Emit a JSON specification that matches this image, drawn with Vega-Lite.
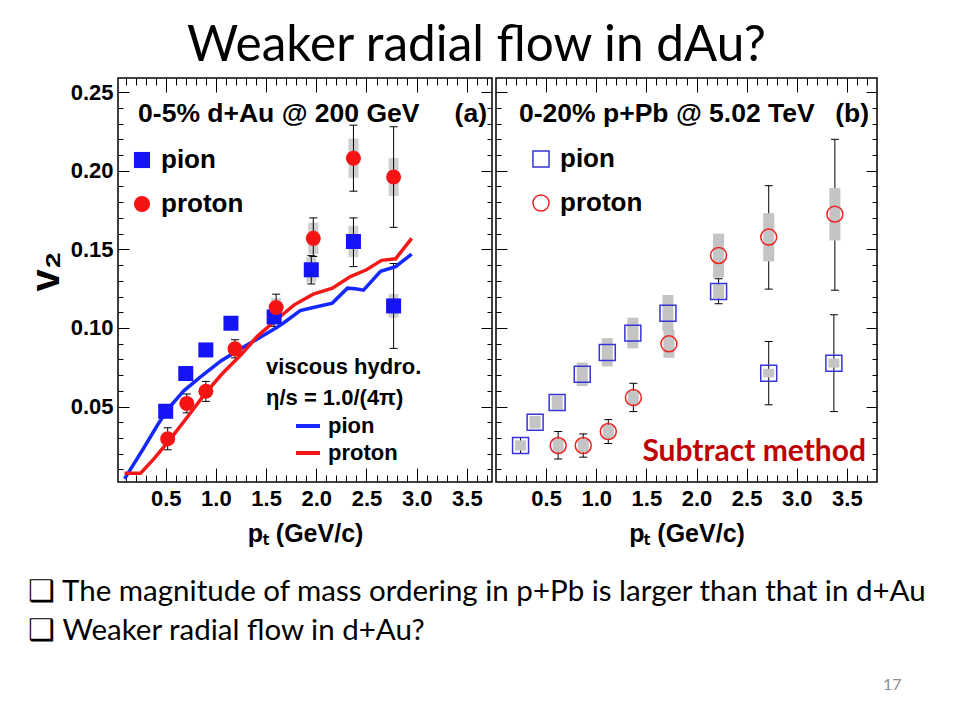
{
  "$schema": "https://vega.github.io/schema/vega-lite/v6.json",
  "background": "white",
  "padding": {"left": 25, "top": 21, "right": 0, "bottom": 0},
  "config": {
    "font": "Liberation Sans",
    "view": {"stroke": "black", "strokeWidth": 1.5},
    "concat": {"spacing": 0}
  },
  "datasets": {
    "pts": [
      {"panel": "a", "species": "pion", "pt": 0.50, "v2": 0.047, "stat_lo": 0.044, "stat_hi": 0.050, "sys_lo": 0.044, "sys_hi": 0.050},
      {"panel": "a", "species": "pion", "pt": 0.70, "v2": 0.071, "stat_lo": 0.068, "stat_hi": 0.074, "sys_lo": 0.068, "sys_hi": 0.074},
      {"panel": "a", "species": "pion", "pt": 0.90, "v2": 0.086, "stat_lo": 0.083, "stat_hi": 0.089, "sys_lo": 0.083, "sys_hi": 0.089},
      {"panel": "a", "species": "pion", "pt": 1.15, "v2": 0.103, "stat_lo": 0.100, "stat_hi": 0.106, "sys_lo": 0.100, "sys_hi": 0.106},
      {"panel": "a", "species": "pion", "pt": 1.58, "v2": 0.107, "stat_lo": 0.101, "stat_hi": 0.113, "sys_lo": 0.103, "sys_hi": 0.111},
      {"panel": "a", "species": "pion", "pt": 1.95, "v2": 0.137, "stat_lo": 0.128, "stat_hi": 0.146, "sys_lo": 0.129, "sys_hi": 0.145},
      {"panel": "a", "species": "pion", "pt": 2.37, "v2": 0.155, "stat_lo": 0.139, "stat_hi": 0.170, "sys_lo": 0.145, "sys_hi": 0.165},
      {"panel": "a", "species": "pion", "pt": 2.77, "v2": 0.114, "stat_lo": 0.087, "stat_hi": 0.141, "sys_lo": 0.1065, "sys_hi": 0.1215},
      {"panel": "a", "species": "proton", "pt": 0.52, "v2": 0.0295, "stat_lo": 0.0225, "stat_hi": 0.0365, "sys_lo": 0.0265, "sys_hi": 0.0325},
      {"panel": "a", "species": "proton", "pt": 0.71, "v2": 0.052, "stat_lo": 0.046, "stat_hi": 0.058, "sys_lo": 0.049, "sys_hi": 0.055},
      {"panel": "a", "species": "proton", "pt": 0.90, "v2": 0.0597, "stat_lo": 0.0533, "stat_hi": 0.066, "sys_lo": 0.0567, "sys_hi": 0.0627},
      {"panel": "a", "species": "proton", "pt": 1.19, "v2": 0.0867, "stat_lo": 0.081, "stat_hi": 0.0925, "sys_lo": 0.0837, "sys_hi": 0.0897},
      {"panel": "a", "species": "proton", "pt": 1.60, "v2": 0.113, "stat_lo": 0.1045, "stat_hi": 0.1215, "sys_lo": 0.107, "sys_hi": 0.119},
      {"panel": "a", "species": "proton", "pt": 1.97, "v2": 0.157, "stat_lo": 0.1455, "stat_hi": 0.170, "sys_lo": 0.147, "sys_hi": 0.167},
      {"panel": "a", "species": "proton", "pt": 2.37, "v2": 0.208, "stat_lo": 0.187, "stat_hi": 0.229, "sys_lo": 0.1955, "sys_hi": 0.2205},
      {"panel": "a", "species": "proton", "pt": 2.77, "v2": 0.196, "stat_lo": 0.164, "stat_hi": 0.228, "sys_lo": 0.184, "sys_hi": 0.208},
      {"panel": "b", "species": "pion", "pt": 0.245, "v2": 0.0252, "stat_lo": 0.0201, "stat_hi": 0.0303, "sys_lo": 0.022, "sys_hi": 0.0285},
      {"panel": "b", "species": "pion", "pt": 0.39, "v2": 0.040, "stat_lo": 0.0375, "stat_hi": 0.0425, "sys_lo": 0.036, "sys_hi": 0.044},
      {"panel": "b", "species": "pion", "pt": 0.61, "v2": 0.0526, "stat_lo": 0.050, "stat_hi": 0.055, "sys_lo": 0.048, "sys_hi": 0.057},
      {"panel": "b", "species": "pion", "pt": 0.86, "v2": 0.0706, "stat_lo": 0.068, "stat_hi": 0.073, "sys_lo": 0.063, "sys_hi": 0.078},
      {"panel": "b", "species": "pion", "pt": 1.11, "v2": 0.0844, "stat_lo": 0.082, "stat_hi": 0.087, "sys_lo": 0.0755, "sys_hi": 0.0935},
      {"panel": "b", "species": "pion", "pt": 1.365, "v2": 0.0967, "stat_lo": 0.094, "stat_hi": 0.099, "sys_lo": 0.087, "sys_hi": 0.1065},
      {"panel": "b", "species": "pion", "pt": 1.715, "v2": 0.1094, "stat_lo": 0.107, "stat_hi": 0.112, "sys_lo": 0.098, "sys_hi": 0.121},
      {"panel": "b", "species": "pion", "pt": 2.22, "v2": 0.1232, "stat_lo": 0.1154, "stat_hi": 0.1313, "sys_lo": 0.1187, "sys_hi": 0.1277},
      {"panel": "b", "species": "pion", "pt": 2.72, "v2": 0.0712, "stat_lo": 0.0511, "stat_hi": 0.0914, "sys_lo": 0.0685, "sys_hi": 0.0740},
      {"panel": "b", "species": "pion", "pt": 3.37, "v2": 0.0776, "stat_lo": 0.0468, "stat_hi": 0.1084, "sys_lo": 0.0748, "sys_hi": 0.0805},
      {"panel": "b", "species": "proton", "pt": 0.62, "v2": 0.0252, "stat_lo": 0.0167, "stat_hi": 0.0341, "sys_lo": 0.021, "sys_hi": 0.0295},
      {"panel": "b", "species": "proton", "pt": 0.87, "v2": 0.0252, "stat_lo": 0.0178, "stat_hi": 0.0326, "sys_lo": 0.021, "sys_hi": 0.0295},
      {"panel": "b", "species": "proton", "pt": 1.12, "v2": 0.0341, "stat_lo": 0.0265, "stat_hi": 0.0417, "sys_lo": 0.0295, "sys_hi": 0.0385},
      {"panel": "b", "species": "proton", "pt": 1.37, "v2": 0.0557, "stat_lo": 0.0468, "stat_hi": 0.0648, "sys_lo": 0.0515, "sys_hi": 0.060},
      {"panel": "b", "species": "proton", "pt": 1.725, "v2": 0.0899, "stat_lo": 0.0835, "stat_hi": 0.0963, "sys_lo": 0.081, "sys_hi": 0.0988},
      {"panel": "b", "species": "proton", "pt": 2.22, "v2": 0.1461, "stat_lo": 0.1334, "stat_hi": 0.1593, "sys_lo": 0.132, "sys_hi": 0.160},
      {"panel": "b", "species": "proton", "pt": 2.72, "v2": 0.1578, "stat_lo": 0.1247, "stat_hi": 0.1905, "sys_lo": 0.1423, "sys_hi": 0.173},
      {"panel": "b", "species": "proton", "pt": 3.38, "v2": 0.1724, "stat_lo": 0.124, "stat_hi": 0.220, "sys_lo": 0.1557, "sys_hi": 0.189}
    ],
    "hydro": [
      {"species": "pion", "pt": 0.09, "v2": 0.004},
      {"species": "pion", "pt": 0.28, "v2": 0.0235},
      {"species": "pion", "pt": 0.42, "v2": 0.0384},
      {"species": "pion", "pt": 0.53, "v2": 0.049},
      {"species": "pion", "pt": 0.68, "v2": 0.060},
      {"species": "pion", "pt": 0.85, "v2": 0.069},
      {"species": "pion", "pt": 1.05, "v2": 0.079},
      {"species": "pion", "pt": 1.28, "v2": 0.088},
      {"species": "pion", "pt": 1.48, "v2": 0.0955},
      {"species": "pion", "pt": 1.61, "v2": 0.1005},
      {"species": "pion", "pt": 1.68, "v2": 0.1035},
      {"species": "pion", "pt": 1.84, "v2": 0.111},
      {"species": "pion", "pt": 1.97, "v2": 0.113},
      {"species": "pion", "pt": 2.16, "v2": 0.1158},
      {"species": "pion", "pt": 2.31, "v2": 0.1253},
      {"species": "pion", "pt": 2.39, "v2": 0.1249},
      {"species": "pion", "pt": 2.47, "v2": 0.124},
      {"species": "pion", "pt": 2.64, "v2": 0.136},
      {"species": "pion", "pt": 2.79, "v2": 0.139},
      {"species": "pion", "pt": 2.95, "v2": 0.147},
      {"species": "proton", "pt": 0.09, "v2": 0.0076},
      {"species": "proton", "pt": 0.25, "v2": 0.0076},
      {"species": "proton", "pt": 0.38, "v2": 0.0165},
      {"species": "proton", "pt": 0.54, "v2": 0.0288},
      {"species": "proton", "pt": 0.72, "v2": 0.0437},
      {"species": "proton", "pt": 0.89, "v2": 0.058},
      {"species": "proton", "pt": 1.06, "v2": 0.0707},
      {"species": "proton", "pt": 1.25, "v2": 0.0829},
      {"species": "proton", "pt": 1.41, "v2": 0.0945},
      {"species": "proton", "pt": 1.59, "v2": 0.1046},
      {"species": "proton", "pt": 1.78, "v2": 0.1147},
      {"species": "proton", "pt": 1.97, "v2": 0.1215},
      {"species": "proton", "pt": 2.16, "v2": 0.1253},
      {"species": "proton", "pt": 2.34, "v2": 0.1327},
      {"species": "proton", "pt": 2.50, "v2": 0.137},
      {"species": "proton", "pt": 2.65, "v2": 0.143},
      {"species": "proton", "pt": 2.79, "v2": 0.144},
      {"species": "proton", "pt": 2.95, "v2": 0.157}
    ]
  },
  "title": {"text": "17", "orient": "bottom", "anchor": "end", "font": "Lato", "fontSize": 16, "fontWeight": "normal", "color": "#8c8c8c", "offset": 32, "dx": -26},
  "vconcat": [
    {
      "title": {"text": "Weaker radial flow in dAu?", "orient": "top", "anchor": "middle", "font": "Lato", "fontSize": 49.5, "fontWeight": "normal", "color": "black", "offset": 5},
      "vconcat": [
        {
          "title": {"text": ["\u2751 The magnitude of mass ordering in p+Pb is larger than that in d+Au", "\u2751 Weaker radial flow in d+Au?"], "orient": "bottom", "anchor": "start", "font": "Lato", "fontSize": 29.5, "fontWeight": "normal", "color": "black", "lineHeight": 39, "offset": 31, "dx": 3},
          "spacing": 0,
          "resolve": {"scale": {"fill": "independent", "stroke": "independent", "shape": "independent"}, "legend": {"fill": "independent", "stroke": "independent", "shape": "independent"}},
          "hconcat": [
            {
              "width": 374,
              "height": 404,
              "resolve": {"axis": {"x": "independent", "y": "independent"}},
              "layer": [
                {
                  "data": {"name": "pts"},
                  "transform": [{"filter": "datum.panel === 'a'"}],
                  "mark": {"type": "rule", "strokeWidth": 10, "color": "#cfcfcf"},
                  "encoding": {
                    "x": {"field": "pt", "type": "quantitative", "scale": {"domain": [0.025, 3.75], "nice": false, "zero": false},
                      "axis": {"orient": "bottom", "values": [0.1,0.2,0.3,0.4,0.5,0.6,0.7,0.8,0.9,1.0,1.1,1.2,1.3,1.4,1.5,1.6,1.7,1.8,1.9,2.0,2.1,2.2,2.3,2.4,2.5,2.6,2.7,2.8,2.9,3.0,3.1,3.2,3.3,3.4,3.5,3.6,3.7],
                        "domain": false, "grid": false, "tickColor": "black", "tickWidth": 1,
                        "tickSize": {"condition": {"test": "abs(datum.value*2-round(datum.value*2)) < 0.001", "value": -14}, "value": -7},
                        "labelExpr": "abs(datum.value*2-round(datum.value*2)) < 0.001 ? format(datum.value, '.1f') : ''",
                        "labelFont": "Liberation Sans", "labelFontWeight": "bold", "labelFontSize": 22, "labelColor": "black",
                        "labelPadding": 20, "labelOverlap": false, "labelFlush": false, "labelBound": false,
                        "title": "p\u209c (GeV/c)", "titleFont": "Liberation Sans", "titleFontSize": 25, "titleFontWeight": "bold", "titleColor": "black", "titlePadding": 5}},
                    "y": {"field": "sys_lo", "type": "quantitative", "scale": {"domain": [0.002, 0.259], "nice": false, "zero": false},
                      "axis": {"orient": "left", "values": [0.01,0.02,0.03,0.04,0.05,0.06,0.07,0.08,0.09,0.10,0.11,0.12,0.13,0.14,0.15,0.16,0.17,0.18,0.19,0.20,0.21,0.22,0.23,0.24,0.25],
                        "domain": false, "grid": false, "tickColor": "black", "tickWidth": 1,
                        "tickSize": {"condition": {"test": "abs(datum.value*20-round(datum.value*20)) < 0.001", "value": -11}, "value": -5},
                        "labelExpr": "abs(datum.value*20-round(datum.value*20)) < 0.001 ? format(datum.value, '.2f') : ''",
                        "labelFont": "Liberation Sans", "labelFontWeight": "bold", "labelFontSize": 22, "labelColor": "black",
                        "labelPadding": 16, "labelOverlap": false, "labelFlush": false, "labelBound": false,
                        "title": "v\u2082", "titleFont": "Liberation Sans", "titleFontSize": 40, "titleFontWeight": "bold", "titleColor": "black", "titlePadding": 4, "titleY": 193}},
                    "y2": {"field": "sys_hi"}
                  }
                },
                {
                  "data": {"name": "pts"},
                  "transform": [{"filter": "datum.panel === 'a'"}],
                  "mark": {"type": "rule", "strokeWidth": 1, "color": "black"},
                  "encoding": {
                    "x": {"field": "pt", "type": "quantitative", "scale": {"domain": [0.025, 3.75], "nice": false, "zero": false},
                      "axis": {"orient": "top", "values": [0.1,0.2,0.3,0.4,0.5,0.6,0.7,0.8,0.9,1.0,1.1,1.2,1.3,1.4,1.5,1.6,1.7,1.8,1.9,2.0,2.1,2.2,2.3,2.4,2.5,2.6,2.7,2.8,2.9,3.0,3.1,3.2,3.3,3.4,3.5,3.6,3.7],
                        "domain": false, "grid": false, "labels": false, "title": null, "tickColor": "black", "tickWidth": 1,
                        "tickSize": {"condition": {"test": "abs(datum.value*2-round(datum.value*2)) < 0.001", "value": -14}, "value": -7}}},
                    "y": {"field": "stat_lo", "type": "quantitative", "scale": {"domain": [0.002, 0.259], "nice": false, "zero": false},
                      "axis": {"orient": "right", "values": [0.01,0.02,0.03,0.04,0.05,0.06,0.07,0.08,0.09,0.10,0.11,0.12,0.13,0.14,0.15,0.16,0.17,0.18,0.19,0.20,0.21,0.22,0.23,0.24,0.25],
                        "domain": false, "grid": false, "labels": false, "title": null, "tickColor": "black", "tickWidth": 1,
                        "tickSize": {"condition": {"test": "abs(datum.value*20-round(datum.value*20)) < 0.001", "value": -11}, "value": -5}}},
                    "y2": {"field": "stat_hi"}
                  }
                },
                {
                  "data": {"name": "pts"},
                  "transform": [{"filter": "datum.panel === 'a'"}],
                  "mark": {"type": "tick", "orient": "horizontal", "size": 8, "thickness": 1, "color": "black", "opacity": 1},
                  "encoding": {
                    "x": {"field": "pt", "type": "quantitative", "scale": {"domain": [0.025, 3.75], "nice": false, "zero": false}, "axis": null},
                    "y": {"field": "stat_lo", "type": "quantitative", "scale": {"domain": [0.002, 0.259], "nice": false, "zero": false}, "axis": null}
                  }
                },
                {
                  "data": {"name": "pts"},
                  "transform": [{"filter": "datum.panel === 'a'"}],
                  "mark": {"type": "tick", "orient": "horizontal", "size": 8, "thickness": 1, "color": "black", "opacity": 1},
                  "encoding": {
                    "x": {"field": "pt", "type": "quantitative", "scale": {"domain": [0.025, 3.75], "nice": false, "zero": false}, "axis": null},
                    "y": {"field": "stat_hi", "type": "quantitative", "scale": {"domain": [0.002, 0.259], "nice": false, "zero": false}, "axis": null}
                  }
                },
                {
                  "data": {"name": "hydro"},
                  "mark": {"type": "line", "strokeWidth": 3.5},
                  "encoding": {
                    "x": {"field": "pt", "type": "quantitative", "scale": {"domain": [0.025, 3.75], "nice": false, "zero": false}, "axis": null},
                    "y": {"field": "v2", "type": "quantitative", "scale": {"domain": [0.002, 0.259], "nice": false, "zero": false}, "axis": null},
                    "stroke": {"field": "species", "type": "nominal", "scale": {"range": ["#1428ff", "#f51818"]},
                      "legend": {"orient": "none", "legendX": 148, "legendY": 279, "padding": 0,
                        "title": ["viscous hydro.", "\u03b7/s = 1.0/(4\u03c0)"], "titleFont": "Liberation Sans", "titleFontSize": 22, "titleFontWeight": "bold", "titleColor": "black", "titleLineHeight": 31, "titlePadding": 2, "titleAlign": "left",
                        "symbolType": "stroke", "symbolStrokeWidth": 4, "symbolSize": 576, "symbolOffset": 28,
                        "labelFont": "Liberation Sans", "labelFontSize": 22, "labelFontWeight": "bold", "labelColor": "black", "labelOffset": 6, "rowPadding": 2}}
                  }
                },
                {
                  "data": {"name": "pts"},
                  "transform": [{"filter": "datum.panel === 'a'"}],
                  "mark": {"type": "point", "filled": true, "opacity": 1, "size": 225, "strokeWidth": 0},
                  "encoding": {
                    "x": {"field": "pt", "type": "quantitative", "scale": {"domain": [0.025, 3.75], "nice": false, "zero": false}, "axis": null},
                    "y": {"field": "v2", "type": "quantitative", "scale": {"domain": [0.002, 0.259], "nice": false, "zero": false}, "axis": null},
                    "fill": {"field": "species", "type": "nominal", "scale": {"range": ["#1414f5", "#f51414"]},
                      "legend": {"orient": "none", "legendX": 11, "legendY": 69, "padding": 0, "title": null,
                        "labelFont": "Liberation Sans", "labelFontSize": 26, "labelFontWeight": "bold", "labelColor": "black", "labelOffset": 6,
                        "symbolSize": 260, "symbolStrokeWidth": 0, "rowPadding": 18}},
                    "shape": {"field": "species", "type": "nominal", "scale": {"range": ["square", "circle"]},
                      "legend": {"orient": "none", "legendX": 11, "legendY": 69, "padding": 0, "title": null,
                        "labelFont": "Liberation Sans", "labelFontSize": 26, "labelFontWeight": "bold", "labelColor": "black", "labelOffset": 6,
                        "symbolSize": 260, "symbolStrokeWidth": 0, "rowPadding": 18}}
                  }
                },
                {
                  "data": {"values": [{"label": "0-5% d+Au @ 200 GeV"}]},
                  "mark": {"type": "text", "align": "left", "baseline": "middle", "font": "Liberation Sans", "fontSize": 26.5, "fontWeight": "bold", "color": "black"},
                  "encoding": {
                    "x": {"datum": 0.225, "type": "quantitative", "scale": {"domain": [0.025, 3.75], "nice": false, "zero": false}, "axis": null},
                    "y": {"datum": 0.236, "type": "quantitative", "scale": {"domain": [0.002, 0.259], "nice": false, "zero": false}, "axis": null},
                    "text": {"field": "label"}
                  }
                },
                {
                  "data": {"values": [{"label": "(a)"}]},
                  "mark": {"type": "text", "align": "right", "baseline": "middle", "font": "Liberation Sans", "fontSize": 26.5, "fontWeight": "bold", "color": "black"},
                  "encoding": {
                    "x": {"datum": 3.70, "type": "quantitative", "scale": {"domain": [0.025, 3.75], "nice": false, "zero": false}, "axis": null},
                    "y": {"datum": 0.236, "type": "quantitative", "scale": {"domain": [0.002, 0.259], "nice": false, "zero": false}, "axis": null},
                    "text": {"field": "label"}
                  }
                }
              ]
            },
            {
              "width": 381,
              "height": 404,
              "resolve": {"axis": {"x": "independent", "y": "independent"}},
              "layer": [
                {
                  "data": {"name": "pts"},
                  "transform": [{"filter": "datum.panel === 'b'"}],
                  "mark": {"type": "rule", "strokeWidth": 1, "color": "black"},
                  "encoding": {
                    "x": {"field": "pt", "type": "quantitative", "scale": {"domain": [0, 3.8], "nice": false, "zero": false},
                      "axis": {"orient": "bottom", "values": [0.1,0.2,0.3,0.4,0.5,0.6,0.7,0.8,0.9,1.0,1.1,1.2,1.3,1.4,1.5,1.6,1.7,1.8,1.9,2.0,2.1,2.2,2.3,2.4,2.5,2.6,2.7,2.8,2.9,3.0,3.1,3.2,3.3,3.4,3.5,3.6,3.7],
                        "domain": false, "grid": false, "tickColor": "black", "tickWidth": 1,
                        "tickSize": {"condition": {"test": "abs(datum.value*2-round(datum.value*2)) < 0.001", "value": -14}, "value": -7},
                        "labelExpr": "abs(datum.value*2-round(datum.value*2)) < 0.001 ? format(datum.value, '.1f') : ''",
                        "labelFont": "Liberation Sans", "labelFontWeight": "bold", "labelFontSize": 22, "labelColor": "black",
                        "labelPadding": 20, "labelOverlap": false, "labelFlush": false, "labelBound": false,
                        "title": "p\u209c (GeV/c)", "titleFont": "Liberation Sans", "titleFontSize": 25, "titleFontWeight": "bold", "titleColor": "black", "titlePadding": 5}},
                    "y": {"field": "stat_lo", "type": "quantitative", "scale": {"domain": [0.002, 0.259], "nice": false, "zero": false},
                      "axis": {"orient": "left", "values": [0.01,0.02,0.03,0.04,0.05,0.06,0.07,0.08,0.09,0.10,0.11,0.12,0.13,0.14,0.15,0.16,0.17,0.18,0.19,0.20,0.21,0.22,0.23,0.24,0.25],
                        "domain": false, "grid": false, "labels": false, "title": null, "tickColor": "black", "tickWidth": 1,
                        "tickSize": {"condition": {"test": "abs(datum.value*20-round(datum.value*20)) < 0.001", "value": -11}, "value": -5}}},
                    "y2": {"field": "stat_hi"}
                  }
                },
                {
                  "data": {"name": "pts"},
                  "transform": [{"filter": "datum.panel === 'b'"}],
                  "mark": {"type": "tick", "orient": "horizontal", "size": 8, "thickness": 1, "color": "black", "opacity": 1},
                  "encoding": {
                    "x": {"field": "pt", "type": "quantitative", "scale": {"domain": [0, 3.8], "nice": false, "zero": false}, "axis": null},
                    "y": {"field": "stat_lo", "type": "quantitative", "scale": {"domain": [0.002, 0.259], "nice": false, "zero": false}, "axis": null}
                  }
                },
                {
                  "data": {"name": "pts"},
                  "transform": [{"filter": "datum.panel === 'b'"}],
                  "mark": {"type": "tick", "orient": "horizontal", "size": 8, "thickness": 1, "color": "black", "opacity": 1},
                  "encoding": {
                    "x": {"field": "pt", "type": "quantitative", "scale": {"domain": [0, 3.8], "nice": false, "zero": false}, "axis": null},
                    "y": {"field": "stat_hi", "type": "quantitative", "scale": {"domain": [0.002, 0.259], "nice": false, "zero": false}, "axis": null}
                  }
                },
                {
                  "data": {"name": "pts"},
                  "transform": [{"filter": "datum.panel === 'b'"}],
                  "mark": {"type": "rule", "strokeWidth": 11, "color": "#c4c4c4"},
                  "encoding": {
                    "x": {"field": "pt", "type": "quantitative", "scale": {"domain": [0, 3.8], "nice": false, "zero": false},
                      "axis": {"orient": "top", "values": [0.1,0.2,0.3,0.4,0.5,0.6,0.7,0.8,0.9,1.0,1.1,1.2,1.3,1.4,1.5,1.6,1.7,1.8,1.9,2.0,2.1,2.2,2.3,2.4,2.5,2.6,2.7,2.8,2.9,3.0,3.1,3.2,3.3,3.4,3.5,3.6,3.7],
                        "domain": false, "grid": false, "labels": false, "title": null, "tickColor": "black", "tickWidth": 1,
                        "tickSize": {"condition": {"test": "abs(datum.value*2-round(datum.value*2)) < 0.001", "value": -14}, "value": -7}}},
                    "y": {"field": "sys_lo", "type": "quantitative", "scale": {"domain": [0.002, 0.259], "nice": false, "zero": false},
                      "axis": {"orient": "right", "values": [0.01,0.02,0.03,0.04,0.05,0.06,0.07,0.08,0.09,0.10,0.11,0.12,0.13,0.14,0.15,0.16,0.17,0.18,0.19,0.20,0.21,0.22,0.23,0.24,0.25],
                        "domain": false, "grid": false, "labels": false, "title": null, "tickColor": "black", "tickWidth": 1,
                        "tickSize": {"condition": {"test": "abs(datum.value*20-round(datum.value*20)) < 0.001", "value": -11}, "value": -5}}},
                    "y2": {"field": "sys_hi"}
                  }
                },
                {
                  "data": {"name": "pts"},
                  "transform": [{"filter": "datum.panel === 'b'"}],
                  "mark": {"type": "point", "filled": false, "opacity": 1, "size": 255, "strokeWidth": 1.5},
                  "encoding": {
                    "x": {"field": "pt", "type": "quantitative", "scale": {"domain": [0, 3.8], "nice": false, "zero": false}, "axis": null},
                    "y": {"field": "v2", "type": "quantitative", "scale": {"domain": [0.002, 0.259], "nice": false, "zero": false}, "axis": null},
                    "stroke": {"field": "species", "type": "nominal", "scale": {"range": ["#3535d8", "#ee2020"]},
                      "legend": {"orient": "none", "legendX": 32, "legendY": 68, "padding": 0, "title": null,
                        "labelFont": "Liberation Sans", "labelFontSize": 26, "labelFontWeight": "bold", "labelColor": "black", "labelOffset": 6,
                        "symbolSize": 260, "symbolStrokeWidth": 1.5, "symbolFillColor": "transparent", "rowPadding": 18}},
                    "shape": {"field": "species", "type": "nominal", "scale": {"range": ["square", "circle"]},
                      "legend": {"orient": "none", "legendX": 32, "legendY": 68, "padding": 0, "title": null,
                        "labelFont": "Liberation Sans", "labelFontSize": 26, "labelFontWeight": "bold", "labelColor": "black", "labelOffset": 6,
                        "symbolSize": 260, "symbolStrokeWidth": 1.5, "symbolFillColor": "transparent", "rowPadding": 18}}
                  }
                },
                {
                  "data": {"values": [{"label": "0-20% p+Pb @ 5.02 TeV"}]},
                  "mark": {"type": "text", "align": "left", "baseline": "middle", "font": "Liberation Sans", "fontSize": 26.5, "fontWeight": "bold", "color": "black"},
                  "encoding": {
                    "x": {"datum": 0.23, "type": "quantitative", "scale": {"domain": [0, 3.8], "nice": false, "zero": false}, "axis": null},
                    "y": {"datum": 0.236, "type": "quantitative", "scale": {"domain": [0.002, 0.259], "nice": false, "zero": false}, "axis": null},
                    "text": {"field": "label"}
                  }
                },
                {
                  "data": {"values": [{"label": "(b)"}]},
                  "mark": {"type": "text", "align": "right", "baseline": "middle", "font": "Liberation Sans", "fontSize": 26.5, "fontWeight": "bold", "color": "black"},
                  "encoding": {
                    "x": {"datum": 3.72, "type": "quantitative", "scale": {"domain": [0, 3.8], "nice": false, "zero": false}, "axis": null},
                    "y": {"datum": 0.236, "type": "quantitative", "scale": {"domain": [0.002, 0.259], "nice": false, "zero": false}, "axis": null},
                    "text": {"field": "label"}
                  }
                },
                {
                  "data": {"values": [{"label": "Subtract method"}]},
                  "mark": {"type": "text", "align": "right", "baseline": "middle", "font": "Lato", "fontSize": 30, "fontWeight": "bold", "color": "#c00000"},
                  "encoding": {
                    "x": {"datum": 3.69, "type": "quantitative", "scale": {"domain": [0, 3.8], "nice": false, "zero": false}, "axis": null},
                    "y": {"datum": 0.0214, "type": "quantitative", "scale": {"domain": [0.002, 0.259], "nice": false, "zero": false}, "axis": null},
                    "text": {"field": "label"}
                  }
                }
              ]
            }
          ]
        }
      ]
    }
  ]
}
